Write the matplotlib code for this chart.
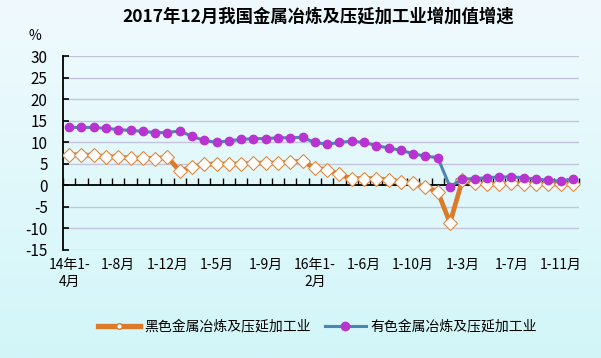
import numpy as np
import matplotlib
matplotlib.use("Agg")
import matplotlib.pyplot as plt
from matplotlib.lines import Line2D

plt.rcParams['font.family'] = ['Noto Sans CJK SC', 'DejaVu Sans']
plt.rcParams['axes.unicode_minus'] = False

# ---- data ----
tick_labels = ["14年1-\n4月", "1-8月", "1-12月", "1-5月", "1-9月", "16年1-\n2月",
               "1-6月", "1-10月", "1-3月", "1-7月", "1-11月"]
ferrous = [7.2, 7.1, 7.0, 6.7, 6.6, 6.4, 6.3, 6.2, 6.6, 3.4,
           4.3, 4.9, 5.0, 5.0, 5.0, 5.2, 5.2, 5.2, 5.4, 5.7,
           4.0, 3.7, 2.6, 1.6, 1.6, 1.6, 1.3, 0.8, 0.5, -0.4,
           -1.4, -8.7, 1.2, 0.5, 0.3, 0.4, 0.5, 0.4, 0.4, 0.3,
           0.4, 0.4]
nonferrous = [13.5, 13.5, 13.5, 13.3, 13.0, 12.8, 12.6, 12.3, 12.3, 12.7,
              11.4, 10.5, 10.0, 10.4, 10.7, 10.9, 10.9, 11.1, 11.1, 11.2,
              10.0, 9.6, 10.0, 10.3, 10.0, 9.3, 8.7, 8.2, 7.4, 6.8,
              6.5, -0.3, 1.5, 1.6, 1.8, 2.0, 2.0, 1.8, 1.5, 1.2,
              1.0, 1.5]
series_names = ["黑色金属冶炼及压延加工业", "有色金属冶炼及压延加工业"]
title = "2017年12月我国金属冶炼及压延加工业增加值增速"

n = len(ferrous)
x = np.arange(n)

fig = plt.figure(figsize=(6.01, 3.58), dpi=100)

# background gradient
bg = fig.add_axes([0, 0, 1, 1], zorder=-10)
top = np.array([240, 250, 254]) / 255
bot = np.array([210, 246, 248]) / 255
grad = np.linspace(0, 1, 256)[:, None, None]
img = top * (1 - grad) + bot * grad
img = np.repeat(img, 2, axis=1)
bg.imshow(img, aspect='auto', extent=[0, 1, 0, 1])
bg.axis('off')

ax = fig.add_axes([0.1048, 0.3017, 0.8586, 0.5405])
ax.patch.set_alpha(0)

ax.set_xlim(-0.5, n - 0.5)
ax.set_ylim(-15, 30)
ax.set_yticks(np.arange(-15, 31, 5))
for v in np.arange(-15, 31, 5):
    if v != 0:
        ax.axhline(v, color='#c4c4dc', lw=1.0, zorder=0)

ax.spines['top'].set_visible(False)
ax.spines['right'].set_visible(False)
ax.spines['bottom'].set_position(('data', 0))
ax.spines['bottom'].set_linewidth(1.3)
ax.spines['left'].set_linewidth(1.3)
ax.tick_params(axis='y', direction='in', length=4, width=1.2, labelsize=11, pad=11)
ax.set_xticks(np.arange(-0.5, n, 1))
ax.tick_params(axis='x', direction='in', length=5, width=1.0, labelbottom=False)

tr = matplotlib.transforms.blended_transform_factory(ax.transData, ax.transAxes)
for i, lab in enumerate(tick_labels):
    ax.text(i * 4, -0.04, lab, transform=tr, ha='center', va='top',
            fontsize=10, linespacing=1.3)

ax.plot(x, ferrous, color='#dd7a2a', lw=3.4, marker='D', markersize=7,
        markerfacecolor='white', markeredgecolor='#dd8a45', markeredgewidth=0.8,
        zorder=3, solid_joinstyle='round')
ax.plot(x, nonferrous, color='#4a86b0', lw=2.2, marker='o', markersize=6,
        markerfacecolor='#b833d0', markeredgecolor='#b833d0', zorder=4)

fig.text(0.53, 0.955, title, ha='center', va='center', fontsize=12.5, fontweight='bold')
fig.text(0.058, 0.9, "%", ha='center', va='center', fontsize=10)

handles = [Line2D([], [], color='#dd7a2a', lw=3.8, marker='o', markersize=4,
                  markerfacecolor='white', markeredgecolor='#dd7a2a'),
           Line2D([], [], color='#4a86b0', lw=2.2, marker='o', markersize=6,
                  markerfacecolor='#b833d0', markeredgecolor='#b833d0')]
fig.legend(handles, series_names, loc='center left', bbox_to_anchor=(0.143, 0.087),
           ncol=2, frameon=False, fontsize=10, handlelength=3, handletextpad=0.3,
           columnspacing=1.0, numpoints=1)

fig.savefig("out.png", dpi=100)
